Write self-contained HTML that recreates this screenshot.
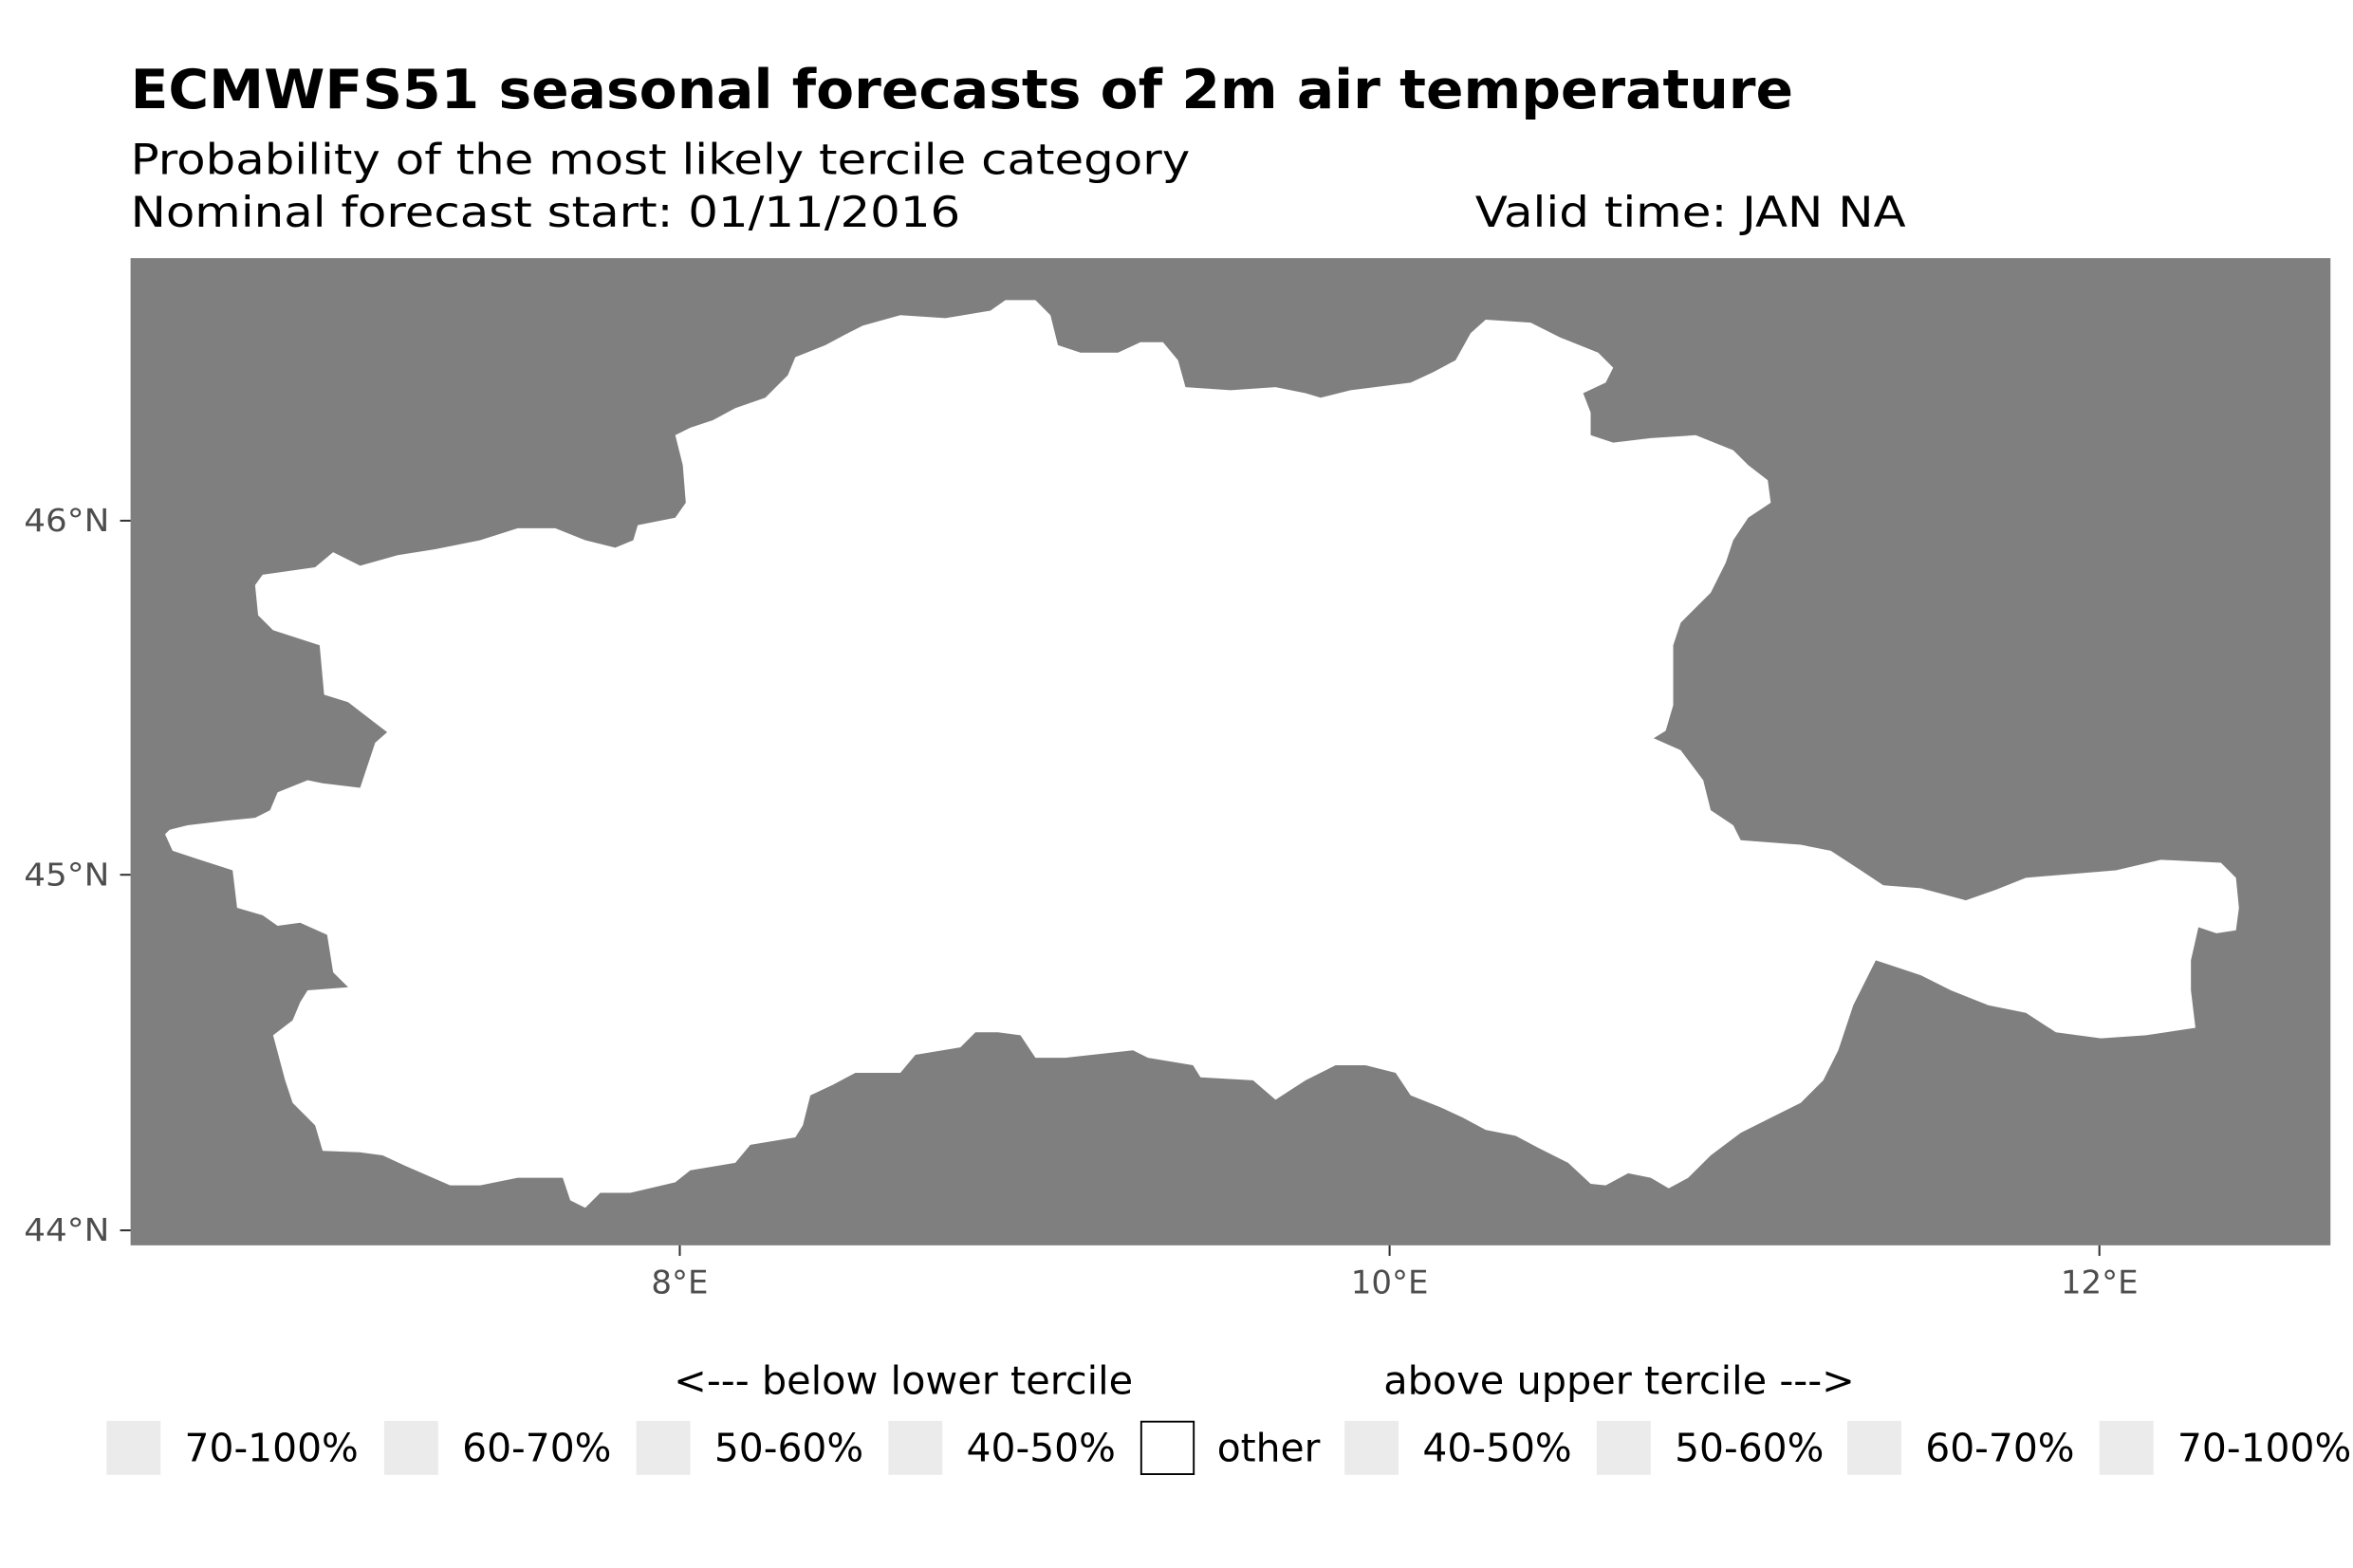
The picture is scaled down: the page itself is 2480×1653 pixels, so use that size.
<!DOCTYPE html>
<html><head><meta charset="utf-8"><style>html,body{margin:0;padding:0;background:#fff}svg{display:block}</style></head>
<body>
<svg width="2480" height="1653" viewBox="0 0 1568 1045" xmlns="http://www.w3.org/2000/svg" font-family="'DejaVu Sans','Liberation Sans',sans-serif">
<rect width="1568" height="1045" fill="#fff"/>
<text x="87" y="72" font-size="36" font-weight="bold" textLength="1108" lengthAdjust="spacingAndGlyphs">ECMWFS51 seasonal forecasts of 2m air temperature</text>
<text x="87" y="116" font-size="28" textLength="706" lengthAdjust="spacingAndGlyphs">Probability of the most likely tercile category</text>
<text x="87" y="151" font-size="28" textLength="553" lengthAdjust="spacingAndGlyphs">Nominal forecast start: 01/11/2016</text>
<text x="983" y="151" font-size="28" textLength="287" lengthAdjust="spacingAndGlyphs">Valid time: JAN NA</text>
<rect x="87" y="172" width="1466" height="658" fill="#7f7f7f"/>
<polygon fill="#fff" points="110,556 113,553 125,550 150,547 170,545 180,540 185,528 205,520 215,522 240,525 245,510 250,495 258,488 245,478 232,468 216,463 213,430 182,420 172,410 170,390 175,383 210,378 222,368 240,377 265,370 290,366 320,360 345,352 370,352 390,360 410,365 422,360 425,350 450,345 457,335 455,310 450,290 460,285 475,280 490,272 510,265 525,250 530,238 550,230 565,222 575,217 600,210 630,212 660,207 670,200 690,200 700,210 705,230 720,235 745,235 760,228 775,228 785,240 790,258 820,260 850,258 870,262 880,265 900,260 940,255 955,248 970,240 980,222 990,213 1020,215 1040,225 1065,235 1075,245 1070,255 1055,262 1060,275 1060,290 1075,295 1100,292 1130,290 1155,300 1165,310 1178,320 1180,335 1165,345 1155,360 1150,375 1140,395 1130,405 1120,415 1115,430 1115,470 1110,487 1102,492 1120,500 1135,520 1140,540 1155,550 1160,560 1200,563 1220,567 1240,580 1255,590 1280,592 1310,600 1330,593 1350,585 1410,580 1440,573 1480,575 1490,585 1492,605 1490,620 1477,622 1465,618 1460,640 1460,660 1463,685 1430,690 1400,692 1370,688 1350,675 1325,670 1300,660 1280,650 1250,640 1245,650 1235,670 1225,700 1215,720 1200,735 1180,745 1160,755 1140,770 1125,785 1112,792 1100,785 1085,782 1070,790 1060,789 1045,775 1025,765 1010,757 990,753 975,745 960,738 940,730 930,715 910,710 890,710 870,720 850,733 835,720 800,718 795,710 765,705 755,700 710,705 690,705 680,690 665,688 650,688 640,698 610,703 600,715 570,715 555,723 540,730 535,750 530,758 500,763 490,775 460,780 450,788 420,795 400,795 390,805 380,800 375,785 345,785 320,790 300,790 270,777 255,770 240,768 215,767 210,750 195,735 190,720 182,690 195,680 200,668 205,660 232,658 222,648 218,623 200,615 185,617 175,610 158,605 155,580 130,572 115,567"/>
<g stroke="#333" stroke-width="1.3">
<line x1="80" y1="347" x2="87" y2="347"/><line x1="80" y1="583" x2="87" y2="583"/><line x1="80" y1="820" x2="87" y2="820"/>
<line x1="453" y1="830" x2="453" y2="837"/><line x1="926" y1="830" x2="926" y2="837"/><line x1="1399" y1="830" x2="1399" y2="837"/>
</g>
<g font-size="21" fill="#4d4d4d">
<text x="73" y="354" text-anchor="end" textLength="57" lengthAdjust="spacingAndGlyphs">46°N</text>
<text x="73" y="590" text-anchor="end" textLength="57" lengthAdjust="spacingAndGlyphs">45°N</text>
<text x="73" y="827" text-anchor="end" textLength="57" lengthAdjust="spacingAndGlyphs">44°N</text>
<text x="453" y="862" text-anchor="middle" font-size="21.5">8°E</text>
<text x="926" y="862" text-anchor="middle" font-size="21.5">10°E</text>
<text x="1399" y="862" text-anchor="middle" font-size="21.5">12°E</text>
</g>
<g font-size="26">
<text x="449" y="929" textLength="306" lengthAdjust="spacingAndGlyphs">&lt;--- below lower tercile</text>
<text x="922" y="929" textLength="314" lengthAdjust="spacingAndGlyphs">above upper tercile ---&gt;</text>
</g>
<g fill="#ebebeb">
<rect x="71" y="947" width="36" height="36"/><rect x="256" y="947" width="36" height="36"/><rect x="424" y="947" width="36" height="36"/><rect x="592" y="947" width="36" height="36"/>
<rect x="896" y="947" width="36" height="36"/><rect x="1064" y="947" width="36" height="36"/><rect x="1231" y="947" width="36" height="36"/><rect x="1399" y="947" width="36" height="36"/>
</g>
<rect x="760.5" y="947.5" width="35" height="35" fill="#fff" stroke="#000" stroke-width="1.2"/>
<g font-size="25.8">
<text x="123" y="974">70-100%</text><text x="308" y="974">60-70%</text><text x="476" y="974">50-60%</text><text x="644" y="974">40-50%</text>
<text x="811" y="974">other</text><text x="948" y="974">40-50%</text><text x="1116" y="974">50-60%</text><text x="1283" y="974">60-70%</text><text x="1451" y="974">70-100%</text>
</g>
</svg>
</body></html>
